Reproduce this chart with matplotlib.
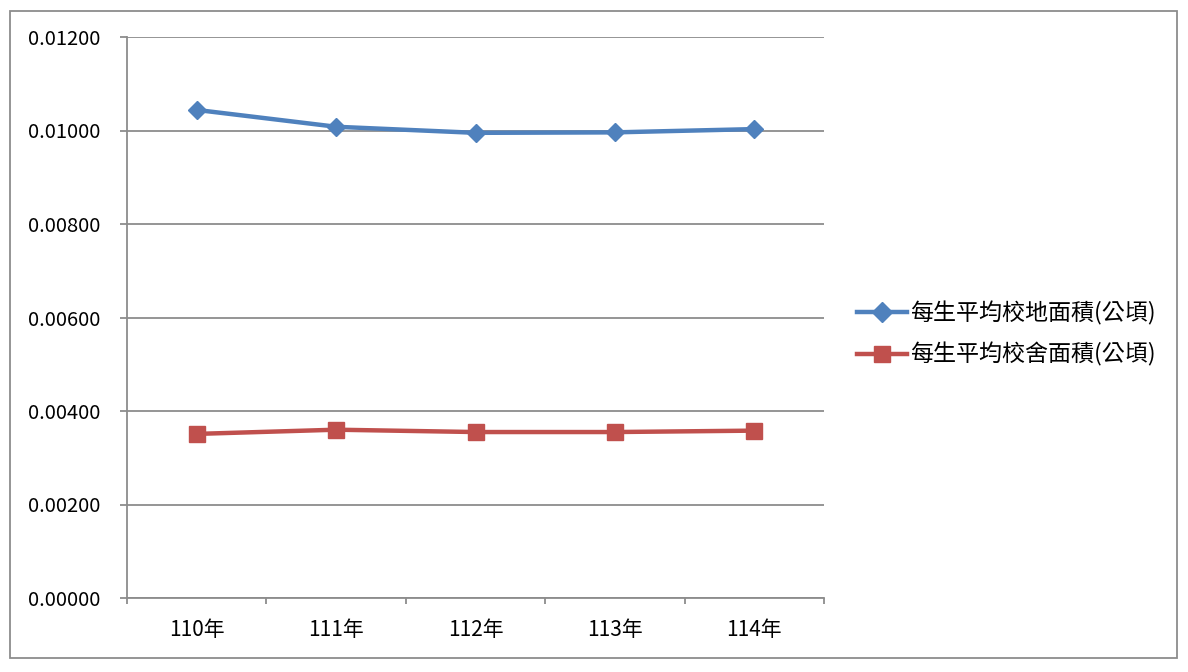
import numpy as np
import matplotlib.pyplot as plt
from matplotlib.patches import Rectangle
from matplotlib.ticker import FormatStrFormatter

plt.rcParams['font.family'] = ['Noto Sans CJK TC', 'DejaVu Sans']

years = ['110年', '111年', '112年', '113年', '114年']
land_area = [0.01044, 0.01008, 0.00995, 0.00996, 0.01003]
building_area = [0.00351, 0.00360, 0.00355, 0.00355, 0.00358]
labels = ['每生平均校地面積(公頃)', '每生平均校舍面積(公頃)']

fig = plt.figure(figsize=(11.88, 6.72), dpi=100)
ax = fig.add_axes([127 / 1188, 1 - 598 / 672, 697 / 1188, 561 / 672])

# outer chart border
fig.patches.append(Rectangle((10 / 1188, 1 - 658 / 672), 1167 / 1188, 647 / 672,
                             transform=fig.transFigure, fill=False,
                             edgecolor='#8c8c8c', linewidth=1.3))

x = np.arange(len(years))
ax.plot(x, land_area, color='#4F81BD', lw=3.2, marker='D', markersize=9,
        label=labels[0], solid_joinstyle='round')
ax.plot(x, building_area, color='#C0504D', lw=3.2, marker='s', markersize=11,
        label=labels[1])

ax.set_xlim(-0.5, len(years) - 0.5)
ax.set_ylim(0, 0.012)
ax.set_yticks(np.arange(0, 0.0121, 0.002))
ax.yaxis.set_major_formatter(FormatStrFormatter('%.5f'))
ax.yaxis.grid(True, color='#8c8c8c', lw=1.3)
ax.set_axisbelow(True)

ax.set_xticks(x)
ax.set_xticklabels(years)
ax.set_xticks(np.arange(-0.5, len(years), 1), minor=True)
ax.tick_params(axis='x', which='major', length=0, pad=15, labelsize=15)
ax.tick_params(axis='x', which='minor', length=4.5, width=1.3, color='#8c8c8c')
ax.tick_params(axis='y', length=5, width=1.3, color='#8c8c8c', pad=14, labelsize=14.5)

for s in ['top', 'right']:
    ax.spines[s].set_visible(False)
for s in ['left', 'bottom']:
    ax.spines[s].set_color('#8c8c8c')
    ax.spines[s].set_linewidth(1.3)

ax.legend(loc='center left', bbox_to_anchor=(1.017, 0.4706), frameon=False,
          fontsize=16.6, handlelength=2.2, handletextpad=0.1, labelspacing=0.75,
          markerscale=1.1)

fig.savefig('out.png', dpi=100)
